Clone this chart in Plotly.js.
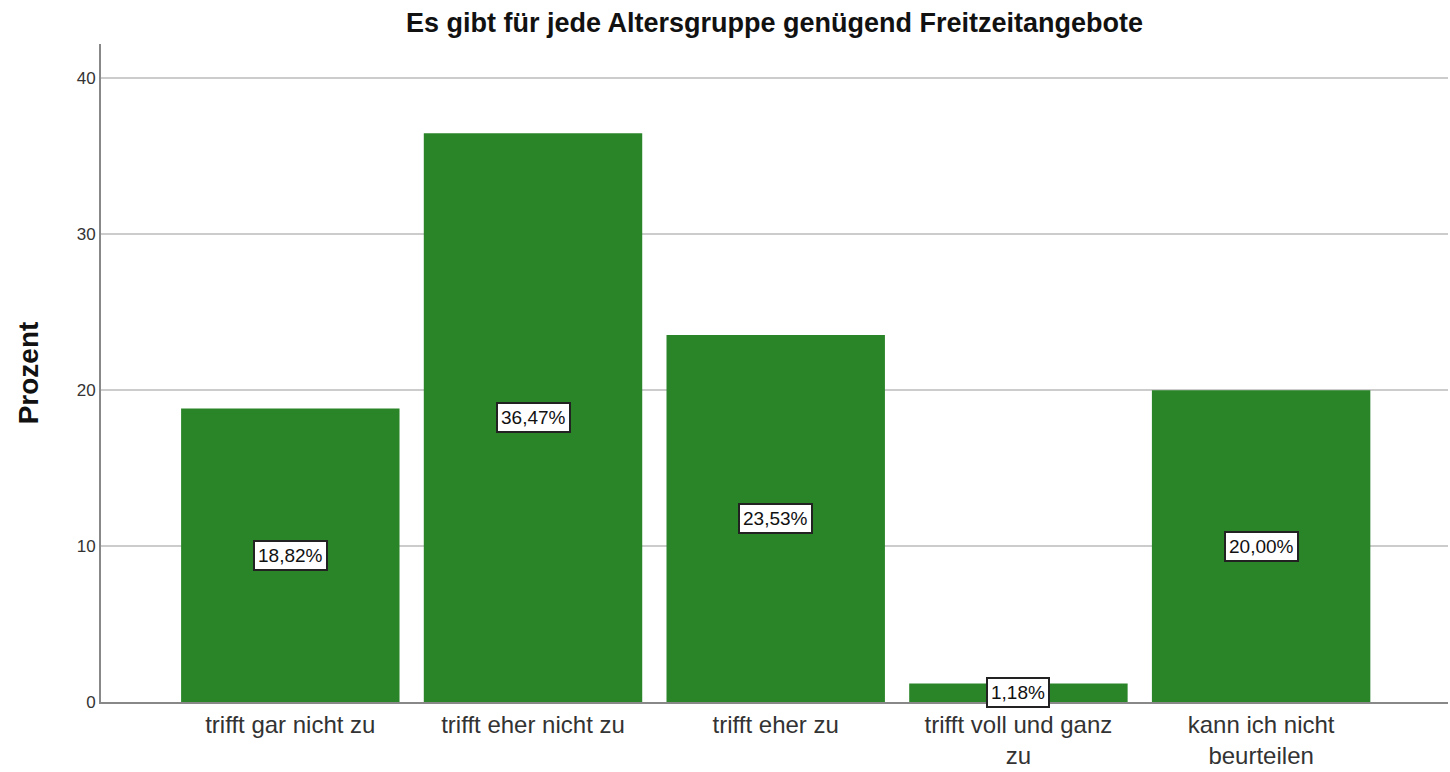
<!DOCTYPE html>
<html>
<head>
<meta charset="utf-8">
<script src="https://cdn.plot.ly/plotly-3.0.1.min.js"></script>
<style>html,body{margin:0;padding:0;background:#fff}#chart{width:1450px;height:772px}</style>
</head>
<body>
<div id="chart"></div>
<script>
var categories = ["trifft gar nicht zu", "trifft eher nicht zu", "trifft eher zu", "trifft voll und ganz<br>zu", "kann ich nicht<br>beurteilen"];
var values = [18.82, 36.47, 23.53, 1.18, 20.00];
var valueLabels = ["18,82%", "36,47%", "23,53%", "1,18%", "20,00%"];
var yTicks = [0, 10, 20, 30, 40];

var FONT = "Liberation Sans, Arial, sans-serif";

var trace = {
  type: "bar",
  x: categories,
  y: values,
  marker: {color: "rgb(42,133,41)", line: {width: 0}},
  hoverinfo: "skip"
};

var annotations = categories.map(function (c, i) {
  return {
    x: c, y: values[i] / 2,
    xref: "x", yref: "y",
    text: valueLabels[i],
    showarrow: false,
    font: {family: FONT, size: 19, color: "#111"},
    bgcolor: "#ffffff",
    bordercolor: "#222",
    borderwidth: 2,
    borderpad: 3
  };
});

var layout = {
  width: 1450, height: 772,
  margin: {l: 101, r: 2, t: 44, b: 70},
  paper_bgcolor: "#fff",
  plot_bgcolor: "#fff",
  bargap: 0.1,
  showlegend: false,
  title: {
    text: "<b>Es gibt für jede Altersgruppe genügend Freitzeitangebote</b>",
    font: {family: FONT, size: 27, color: "#111"},
    x: 0.5, xref: "paper", y: 0.971, yanchor: "middle"
  },
  xaxis: {
    type: "category",
    range: [-0.78, 4.77],
    showgrid: false,
    showline: true, linecolor: "#888", linewidth: 2,
    ticks: "", ticklen: 0,
    tickfont: {family: FONT, size: 24, color: "#333"},
    zeroline: false,
    fixedrange: true
  },
  yaxis: {
    range: [0, 42.2],
    tickvals: yTicks,
    ticktext: yTicks.map(String),
    showgrid: true, gridcolor: "#cccccc", gridwidth: 2,
    showline: true, linecolor: "#888", linewidth: 2,
    ticks: "", ticklen: 0,
    tickfont: {family: FONT, size: 17, color: "#333"},
    zeroline: false,
    title: {text: "<b>Prozent</b>", font: {family: FONT, size: 28, color: "#111"}, standoff: 30},
    fixedrange: true
  },
  annotations: annotations
};

Plotly.newPlot("chart", [trace], layout, {displayModeBar: false, staticPlot: true});
</script>
</body>
</html>
